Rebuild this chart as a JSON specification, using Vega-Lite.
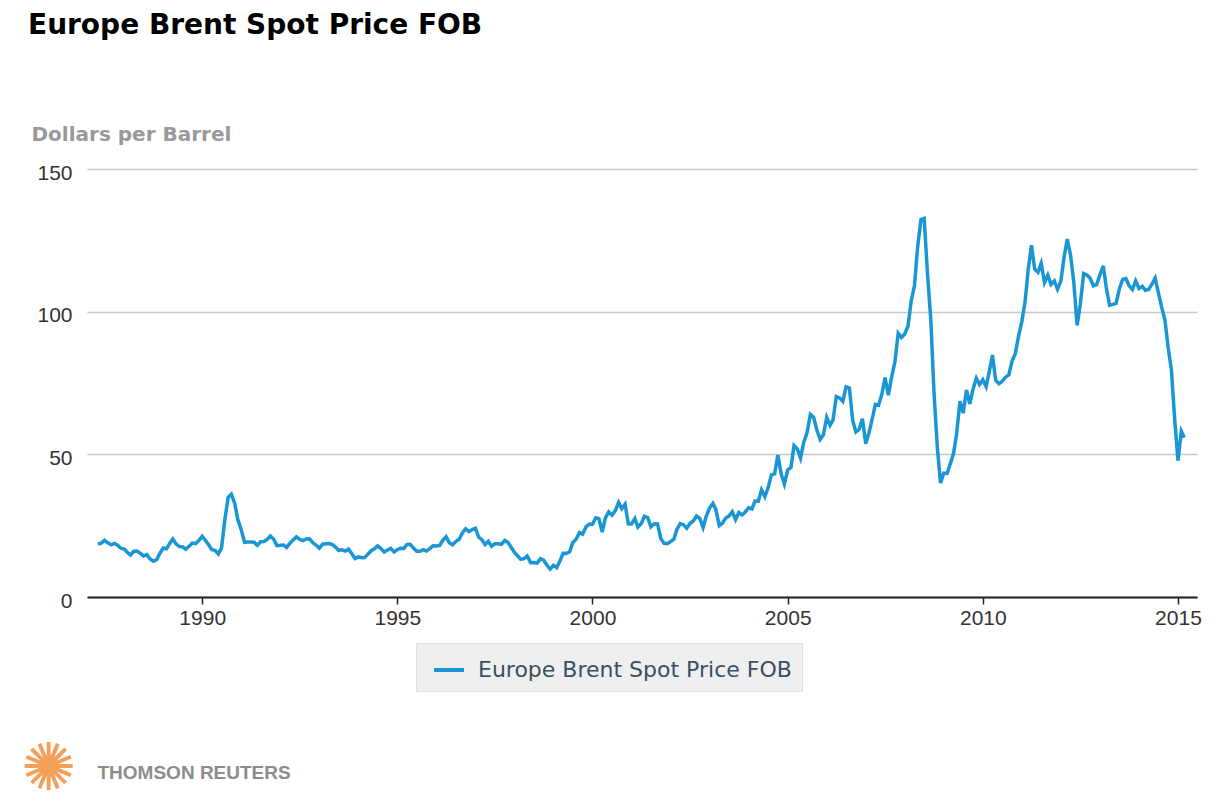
{
  "$schema": "https://vega.github.io/schema/vega-lite/v6.json",
  "autosize": "none",
  "width": 1110,
  "height": 428,
  "padding": {"left": 87, "top": 169, "right": 19, "bottom": 213},
  "background": "#ffffff",
  "title": {
    "text": "Europe Brent Spot Price FOB",
    "anchor": "start",
    "frame": "group",
    "dx": -59,
    "offset": 62,
    "baseline": "alphabetic",
    "font": "DejaVu Sans",
    "fontSize": 28,
    "fontWeight": "bold",
    "color": "#000000"
  },
  "config": {
    "view": {"stroke": null}
  },
  "data": {
    "values": [
      {"date": "1987-05-01", "price": 18.58}, {"date": "1987-06-01", "price": 18.86}, {"date": "1987-07-01", "price": 19.86}, {"date": "1987-08-01", "price": 18.98}, {"date": "1987-09-01", "price": 18.31}, {"date": "1987-10-01", "price": 18.76}, {"date": "1987-11-01", "price": 18.15}, {"date": "1987-12-01", "price": 17.14},
      {"date": "1988-01-01", "price": 16.80}, {"date": "1988-02-01", "price": 15.65}, {"date": "1988-03-01", "price": 14.73}, {"date": "1988-04-01", "price": 16.01}, {"date": "1988-05-01", "price": 16.07}, {"date": "1988-06-01", "price": 15.28}, {"date": "1988-07-01", "price": 14.38}, {"date": "1988-08-01", "price": 14.85}, {"date": "1988-09-01", "price": 13.33}, {"date": "1988-10-01", "price": 12.51}, {"date": "1988-11-01", "price": 13.08}, {"date": "1988-12-01", "price": 15.33},
      {"date": "1989-01-01", "price": 17.17}, {"date": "1989-02-01", "price": 16.89}, {"date": "1989-03-01", "price": 18.70}, {"date": "1989-04-01", "price": 20.32}, {"date": "1989-05-01", "price": 18.63}, {"date": "1989-06-01", "price": 17.67}, {"date": "1989-07-01", "price": 17.62}, {"date": "1989-08-01", "price": 16.77}, {"date": "1989-09-01", "price": 17.77}, {"date": "1989-10-01", "price": 18.91}, {"date": "1989-11-01", "price": 18.73}, {"date": "1989-12-01", "price": 19.84},
      {"date": "1990-01-01", "price": 21.25}, {"date": "1990-02-01", "price": 19.81}, {"date": "1990-03-01", "price": 18.39}, {"date": "1990-04-01", "price": 16.61}, {"date": "1990-05-01", "price": 16.35}, {"date": "1990-06-01", "price": 15.10}, {"date": "1990-07-01", "price": 17.17}, {"date": "1990-08-01", "price": 27.17}, {"date": "1990-09-01", "price": 34.90}, {"date": "1990-10-01", "price": 36.02}, {"date": "1990-11-01", "price": 32.82}, {"date": "1990-12-01", "price": 27.01},
      {"date": "1991-01-01", "price": 23.60}, {"date": "1991-02-01", "price": 19.17}, {"date": "1991-03-01", "price": 19.28}, {"date": "1991-04-01", "price": 19.28}, {"date": "1991-05-01", "price": 19.17}, {"date": "1991-06-01", "price": 18.12}, {"date": "1991-07-01", "price": 19.37}, {"date": "1991-08-01", "price": 19.45}, {"date": "1991-09-01", "price": 20.20}, {"date": "1991-10-01", "price": 21.40}, {"date": "1991-11-01", "price": 20.25}, {"date": "1991-12-01", "price": 18.00},
      {"date": "1992-01-01", "price": 18.10}, {"date": "1992-02-01", "price": 18.23}, {"date": "1992-03-01", "price": 17.37}, {"date": "1992-04-01", "price": 18.86}, {"date": "1992-05-01", "price": 19.96}, {"date": "1992-06-01", "price": 21.07}, {"date": "1992-07-01", "price": 20.21}, {"date": "1992-08-01", "price": 19.74}, {"date": "1992-09-01", "price": 20.31}, {"date": "1992-10-01", "price": 20.37}, {"date": "1992-11-01", "price": 19.04}, {"date": "1992-12-01", "price": 18.21},
      {"date": "1993-01-01", "price": 17.13}, {"date": "1993-02-01", "price": 18.52}, {"date": "1993-03-01", "price": 18.64}, {"date": "1993-04-01", "price": 18.71}, {"date": "1993-05-01", "price": 18.41}, {"date": "1993-06-01", "price": 17.49}, {"date": "1993-07-01", "price": 16.35}, {"date": "1993-08-01", "price": 16.54}, {"date": "1993-09-01", "price": 16.09}, {"date": "1993-10-01", "price": 16.77}, {"date": "1993-11-01", "price": 15.13}, {"date": "1993-12-01", "price": 13.52},
      {"date": "1994-01-01", "price": 14.08}, {"date": "1994-02-01", "price": 13.74}, {"date": "1994-03-01", "price": 13.79}, {"date": "1994-04-01", "price": 15.02}, {"date": "1994-05-01", "price": 16.23}, {"date": "1994-06-01", "price": 16.92}, {"date": "1994-07-01", "price": 17.93}, {"date": "1994-08-01", "price": 16.99}, {"date": "1994-09-01", "price": 15.79}, {"date": "1994-10-01", "price": 16.45}, {"date": "1994-11-01", "price": 17.03}, {"date": "1994-12-01", "price": 15.83},
      {"date": "1995-01-01", "price": 16.66}, {"date": "1995-02-01", "price": 17.08}, {"date": "1995-03-01", "price": 16.98}, {"date": "1995-04-01", "price": 18.45}, {"date": "1995-05-01", "price": 18.48}, {"date": "1995-06-01", "price": 17.14}, {"date": "1995-07-01", "price": 16.03}, {"date": "1995-08-01", "price": 16.05}, {"date": "1995-09-01", "price": 16.62}, {"date": "1995-10-01", "price": 16.12}, {"date": "1995-11-01", "price": 16.96}, {"date": "1995-12-01", "price": 17.96},
      {"date": "1996-01-01", "price": 17.86}, {"date": "1996-02-01", "price": 18.05}, {"date": "1996-03-01", "price": 19.87}, {"date": "1996-04-01", "price": 21.11}, {"date": "1996-05-01", "price": 19.05}, {"date": "1996-06-01", "price": 18.32}, {"date": "1996-07-01", "price": 19.41}, {"date": "1996-08-01", "price": 20.24}, {"date": "1996-09-01", "price": 22.48}, {"date": "1996-10-01", "price": 23.93}, {"date": "1996-11-01", "price": 22.90}, {"date": "1996-12-01", "price": 23.63},
      {"date": "1997-01-01", "price": 24.07}, {"date": "1997-02-01", "price": 20.94}, {"date": "1997-03-01", "price": 20.12}, {"date": "1997-04-01", "price": 18.40}, {"date": "1997-05-01", "price": 19.54}, {"date": "1997-06-01", "price": 17.77}, {"date": "1997-07-01", "price": 18.63}, {"date": "1997-08-01", "price": 18.67}, {"date": "1997-09-01", "price": 18.47}, {"date": "1997-10-01", "price": 19.80}, {"date": "1997-11-01", "price": 19.14}, {"date": "1997-12-01", "price": 17.41},
      {"date": "1998-01-01", "price": 15.59}, {"date": "1998-02-01", "price": 14.36}, {"date": "1998-03-01", "price": 13.21}, {"date": "1998-04-01", "price": 13.43}, {"date": "1998-05-01", "price": 14.38}, {"date": "1998-06-01", "price": 12.04}, {"date": "1998-07-01", "price": 12.09}, {"date": "1998-08-01", "price": 11.86}, {"date": "1998-09-01", "price": 13.42}, {"date": "1998-10-01", "price": 12.93}, {"date": "1998-11-01", "price": 11.12}, {"date": "1998-12-01", "price": 9.80},
      {"date": "1999-01-01", "price": 11.12}, {"date": "1999-02-01", "price": 10.27}, {"date": "1999-03-01", "price": 12.51}, {"date": "1999-04-01", "price": 15.29}, {"date": "1999-05-01", "price": 15.23}, {"date": "1999-06-01", "price": 15.86}, {"date": "1999-07-01", "price": 19.08}, {"date": "1999-08-01", "price": 20.22}, {"date": "1999-09-01", "price": 22.54}, {"date": "1999-10-01", "price": 22.01}, {"date": "1999-11-01", "price": 24.56}, {"date": "1999-12-01", "price": 25.49},
      {"date": "2000-01-01", "price": 25.51}, {"date": "2000-02-01", "price": 27.78}, {"date": "2000-03-01", "price": 27.49}, {"date": "2000-04-01", "price": 22.76}, {"date": "2000-05-01", "price": 27.74}, {"date": "2000-06-01", "price": 29.80}, {"date": "2000-07-01", "price": 28.68}, {"date": "2000-08-01", "price": 30.20}, {"date": "2000-09-01", "price": 33.14}, {"date": "2000-10-01", "price": 30.96}, {"date": "2000-11-01", "price": 32.55}, {"date": "2000-12-01", "price": 25.66},
      {"date": "2001-01-01", "price": 25.62}, {"date": "2001-02-01", "price": 27.50}, {"date": "2001-03-01", "price": 24.50}, {"date": "2001-04-01", "price": 25.66}, {"date": "2001-05-01", "price": 28.31}, {"date": "2001-06-01", "price": 27.85}, {"date": "2001-07-01", "price": 24.61}, {"date": "2001-08-01", "price": 25.68}, {"date": "2001-09-01", "price": 25.62}, {"date": "2001-10-01", "price": 20.54}, {"date": "2001-11-01", "price": 18.80}, {"date": "2001-12-01", "price": 18.71},
      {"date": "2002-01-01", "price": 19.42}, {"date": "2002-02-01", "price": 20.28}, {"date": "2002-03-01", "price": 23.70}, {"date": "2002-04-01", "price": 25.73}, {"date": "2002-05-01", "price": 25.35}, {"date": "2002-06-01", "price": 24.08}, {"date": "2002-07-01", "price": 25.74}, {"date": "2002-08-01", "price": 26.65}, {"date": "2002-09-01", "price": 28.40}, {"date": "2002-10-01", "price": 27.54}, {"date": "2002-11-01", "price": 24.34}, {"date": "2002-12-01", "price": 28.33},
      {"date": "2003-01-01", "price": 31.18}, {"date": "2003-02-01", "price": 32.77}, {"date": "2003-03-01", "price": 30.61}, {"date": "2003-04-01", "price": 25.00}, {"date": "2003-05-01", "price": 25.86}, {"date": "2003-06-01", "price": 27.65}, {"date": "2003-07-01", "price": 28.35}, {"date": "2003-08-01", "price": 29.89}, {"date": "2003-09-01", "price": 27.11}, {"date": "2003-10-01", "price": 29.61}, {"date": "2003-11-01", "price": 28.75}, {"date": "2003-12-01", "price": 29.81},
      {"date": "2004-01-01", "price": 31.28}, {"date": "2004-02-01", "price": 30.86}, {"date": "2004-03-01", "price": 33.63}, {"date": "2004-04-01", "price": 33.59}, {"date": "2004-05-01", "price": 37.57}, {"date": "2004-06-01", "price": 35.18}, {"date": "2004-07-01", "price": 38.22}, {"date": "2004-08-01", "price": 42.74}, {"date": "2004-09-01", "price": 43.20}, {"date": "2004-10-01", "price": 49.78}, {"date": "2004-11-01", "price": 43.11}, {"date": "2004-12-01", "price": 39.60},
      {"date": "2005-01-01", "price": 44.51}, {"date": "2005-02-01", "price": 45.48}, {"date": "2005-03-01", "price": 53.10}, {"date": "2005-04-01", "price": 51.88}, {"date": "2005-05-01", "price": 48.65}, {"date": "2005-06-01", "price": 54.35}, {"date": "2005-07-01", "price": 57.52}, {"date": "2005-08-01", "price": 63.98}, {"date": "2005-09-01", "price": 62.91}, {"date": "2005-10-01", "price": 58.54}, {"date": "2005-11-01", "price": 55.24}, {"date": "2005-12-01", "price": 56.86},
      {"date": "2006-01-01", "price": 62.99}, {"date": "2006-02-01", "price": 60.21}, {"date": "2006-03-01", "price": 62.06}, {"date": "2006-04-01", "price": 70.26}, {"date": "2006-05-01", "price": 69.78}, {"date": "2006-06-01", "price": 68.56}, {"date": "2006-07-01", "price": 73.67}, {"date": "2006-08-01", "price": 73.23}, {"date": "2006-09-01", "price": 61.96}, {"date": "2006-10-01", "price": 57.81}, {"date": "2006-11-01", "price": 58.76}, {"date": "2006-12-01", "price": 62.47},
      {"date": "2007-01-01", "price": 53.68}, {"date": "2007-02-01", "price": 57.56}, {"date": "2007-03-01", "price": 62.05}, {"date": "2007-04-01", "price": 67.49}, {"date": "2007-05-01", "price": 67.21}, {"date": "2007-06-01", "price": 71.05}, {"date": "2007-07-01", "price": 76.93}, {"date": "2007-08-01", "price": 70.76}, {"date": "2007-09-01", "price": 77.17}, {"date": "2007-10-01", "price": 82.34}, {"date": "2007-11-01", "price": 92.41}, {"date": "2007-12-01", "price": 90.93},
      {"date": "2008-01-01", "price": 92.18}, {"date": "2008-02-01", "price": 94.99}, {"date": "2008-03-01", "price": 103.64}, {"date": "2008-04-01", "price": 109.07}, {"date": "2008-05-01", "price": 122.80}, {"date": "2008-06-01", "price": 132.32}, {"date": "2008-07-01", "price": 132.72}, {"date": "2008-08-01", "price": 113.24}, {"date": "2008-09-01", "price": 97.23}, {"date": "2008-10-01", "price": 71.58}, {"date": "2008-11-01", "price": 52.45}, {"date": "2008-12-01", "price": 39.95},
      {"date": "2009-01-01", "price": 43.44}, {"date": "2009-02-01", "price": 43.32}, {"date": "2009-03-01", "price": 46.54}, {"date": "2009-04-01", "price": 50.18}, {"date": "2009-05-01", "price": 57.30}, {"date": "2009-06-01", "price": 68.61}, {"date": "2009-07-01", "price": 64.44}, {"date": "2009-08-01", "price": 72.51}, {"date": "2009-09-01", "price": 67.65}, {"date": "2009-10-01", "price": 72.77}, {"date": "2009-11-01", "price": 76.66}, {"date": "2009-12-01", "price": 74.46},
      {"date": "2010-01-01", "price": 76.17}, {"date": "2010-02-01", "price": 73.75}, {"date": "2010-03-01", "price": 78.83}, {"date": "2010-04-01", "price": 84.82}, {"date": "2010-05-01", "price": 75.95}, {"date": "2010-06-01", "price": 74.76}, {"date": "2010-07-01", "price": 75.58}, {"date": "2010-08-01", "price": 77.04}, {"date": "2010-09-01", "price": 77.84}, {"date": "2010-10-01", "price": 82.67}, {"date": "2010-11-01", "price": 85.28}, {"date": "2010-12-01", "price": 91.45},
      {"date": "2011-01-01", "price": 96.52}, {"date": "2011-02-01", "price": 103.72}, {"date": "2011-03-01", "price": 114.64}, {"date": "2011-04-01", "price": 123.26}, {"date": "2011-05-01", "price": 114.99}, {"date": "2011-06-01", "price": 113.83}, {"date": "2011-07-01", "price": 116.97}, {"date": "2011-08-01", "price": 110.22}, {"date": "2011-09-01", "price": 112.83}, {"date": "2011-10-01", "price": 109.55}, {"date": "2011-11-01", "price": 110.77}, {"date": "2011-12-01", "price": 107.87},
      {"date": "2012-01-01", "price": 110.69}, {"date": "2012-02-01", "price": 119.33}, {"date": "2012-03-01", "price": 125.45}, {"date": "2012-04-01", "price": 119.75}, {"date": "2012-05-01", "price": 110.34}, {"date": "2012-06-01", "price": 95.16}, {"date": "2012-07-01", "price": 102.62}, {"date": "2012-08-01", "price": 113.36}, {"date": "2012-09-01", "price": 112.86}, {"date": "2012-10-01", "price": 111.71}, {"date": "2012-11-01", "price": 109.06}, {"date": "2012-12-01", "price": 109.49},
      {"date": "2013-01-01", "price": 112.96}, {"date": "2013-02-01", "price": 116.05}, {"date": "2013-03-01", "price": 108.47}, {"date": "2013-04-01", "price": 102.25}, {"date": "2013-05-01", "price": 102.56}, {"date": "2013-06-01", "price": 102.92}, {"date": "2013-07-01", "price": 107.93}, {"date": "2013-08-01", "price": 111.28}, {"date": "2013-09-01", "price": 111.60}, {"date": "2013-10-01", "price": 109.08}, {"date": "2013-11-01", "price": 107.79}, {"date": "2013-12-01", "price": 110.76},
      {"date": "2014-01-01", "price": 108.12}, {"date": "2014-02-01", "price": 108.90}, {"date": "2014-03-01", "price": 107.48}, {"date": "2014-04-01", "price": 107.76}, {"date": "2014-05-01", "price": 109.54}, {"date": "2014-06-01", "price": 111.80}, {"date": "2014-07-01", "price": 106.77}, {"date": "2014-08-01", "price": 101.61}, {"date": "2014-09-01", "price": 97.09}, {"date": "2014-10-01", "price": 87.43}, {"date": "2014-11-01", "price": 79.44}, {"date": "2014-12-01", "price": 62.34},
      {"date": "2015-01-01", "price": 47.76}, {"date": "2015-02-01", "price": 58.10}, {"date": "2015-03-01", "price": 55.89}
    ]
  },
  "layer": [
    {
      "mark": {"type": "line", "strokeWidth": 3.5, "interpolate": "linear"},
      "encoding": {
        "x": {
          "field": "date",
          "type": "temporal",
          "scale": {"type": "utc", "domain": ["1987-01-19", "2015-06-28"]},
          "axis": {
            "values": [{"year": 1990, "utc": true}, {"year": 1995, "utc": true}, {"year": 2000, "utc": true}, {"year": 2005, "utc": true}, {"year": 2010, "utc": true}, {"year": 2015, "utc": true}],
            "format": "%Y",
            "formatType": "utc",
            "grid": false,
            "domainColor": "#222222",
            "domainWidth": 2,
            "tickColor": "#222222",
            "tickWidth": 1.5,
            "tickSize": 7,
            "labelFont": "Liberation Sans",
            "labelFontSize": 21,
            "labelColor": "#333333",
            "labelPadding": 3,
            "title": "THOMSON REUTERS",
            "titleX": 10,
            "titleY": 181,
            "titleAlign": "left",
            "titleAnchor": null,
            "titleBaseline": "alphabetic",
            "titleFont": "Liberation Sans",
            "titleFontSize": 19,
            "titleFontWeight": "bold",
            "titleColor": "#8c8c8c"
          }
        },
        "y": {
          "field": "price",
          "type": "quantitative",
          "scale": {"domain": [0, 150], "nice": false},
          "axis": {
            "values": [0, 50, 100, 150],
            "grid": true,
            "gridColor": "#c8c8c8",
            "gridWidth": 1.5,
            "domain": false,
            "ticks": false,
            "tickSize": 0,
            "labelPadding": 15,
            "labelOffset": 4,
            "labelFont": "Liberation Sans",
            "labelFontSize": 21,
            "labelColor": "#333333",
            "title": "Dollars per Barrel",
            "titleX": -56,
            "titleY": -29,
            "titleAngle": 0,
            "titleAlign": "left",
            "titleAnchor": null,
            "titleBaseline": "alphabetic",
            "titleFont": "DejaVu Sans",
            "titleFontSize": 20,
            "titleFontWeight": "bold",
            "titleColor": "#999999"
          }
        },
        "color": {
          "datum": "Europe Brent Spot Price FOB",
          "type": "nominal",
          "scale": {"range": ["#1a96d4"]},
          "legend": {
            "title": null,
            "orient": "none",
            "legendX": 329,
            "legendY": 474,
            "padding": 10,
            "symbolOffset": 6,
            "fillColor": "#efefef",
            "strokeColor": "#e0e0e0",
            "symbolType": "stroke",
            "symbolSize": 900,
            "symbolStrokeWidth": 4,
            "labelOffset": 12,
            "labelFont": "DejaVu Sans",
            "labelFontSize": 22,
            "labelColor": "#3b4f63",
            "labelLimit": 400
          }
        }
      }
    },
    {
      "mark": {"type": "line", "strokeOpacity": 0},
      "encoding": {
        "x": {
          "field": "date",
          "type": "temporal",
          "axis": {
            "orient": "bottom",
            "labels": false,
            "ticks": false,
            "domain": false,
            "grid": false,
            "title": "✺",
            "titleX": -39,
            "titleY": 172,
            "titleAlign": "center",
            "titleAnchor": null,
            "titleBaseline": "middle",
            "titleFont": "DejaVu Sans",
            "titleFontSize": 66,
            "titleFontWeight": "normal",
            "titleColor": "#f5a05a"
          }
        },
        "y": {"field": "price", "type": "quantitative"}
      }
    }
  ],
  "resolve": {"axis": {"x": "independent"}}
}
